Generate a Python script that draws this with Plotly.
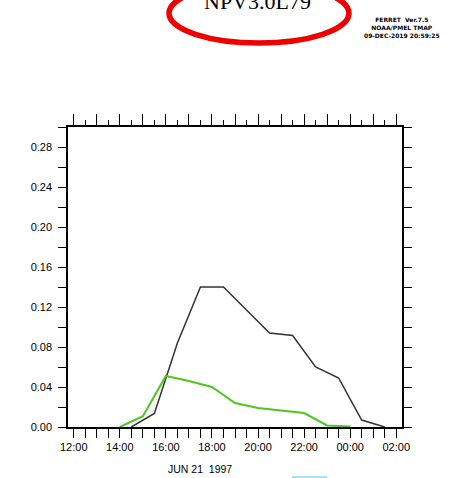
import plotly.graph_objects as go

# ---- data ----
black_times = ["1997-06-21 14:30", "1997-06-21 15:30", "1997-06-21 16:30", "1997-06-21 17:30",
               "1997-06-21 18:30", "1997-06-21 19:30", "1997-06-21 20:30", "1997-06-21 21:30",
               "1997-06-21 22:30", "1997-06-21 23:30", "1997-06-22 00:30", "1997-06-22 01:30"]
black_values = [0.0, 0.0135, 0.084, 0.140, 0.140, 0.117, 0.094, 0.0915, 0.060, 0.049, 0.007, 0.0]

green_times = ["1997-06-21 14:00", "1997-06-21 15:00", "1997-06-21 16:00", "1997-06-21 17:00",
               "1997-06-21 18:00", "1997-06-21 19:00", "1997-06-21 20:00", "1997-06-21 21:00",
               "1997-06-21 22:00", "1997-06-21 23:00", "1997-06-22 00:00"]
green_values = [0.0, 0.0108, 0.051, 0.046, 0.040, 0.024, 0.019, 0.0165, 0.014, 0.0015, 0.0005]

x_range = ["1997-06-21 11:45", "1997-06-22 02:15"]
y_range = [0, 0.30]
date_label = "JUN\u00a021\u00a0\u00a01997"
title_text = "NPV3.0L79"
ferret_text = "FERRET\u00a0\u00a0Ver.7.5<br>NOAA/PMEL\u00a0TMAP<br>09-DEC-2019\u00a020:59:25"

W, H = 463, 478
L, R, T, B = 68, 61, 127, 51
PW, PH = W - L - R, H - T - B

def px(x):
    return (x - L) / PW

def py(y):
    return (H - B - y) / PH

fig = go.Figure()
fig.add_trace(go.Scatter(x=black_times, y=black_values, mode="lines",
                         line=dict(color="#333333", width=1.5), showlegend=False))
fig.add_trace(go.Scatter(x=green_times, y=green_values, mode="lines",
                         line=dict(color="#4cc81e", width=2), showlegend=False))
fig.add_trace(go.Scatter(x=x_range, y=[None, None], xaxis="x2", mode="lines",
                         showlegend=False, hoverinfo="skip"))

tickfont = dict(family="Liberation Sans, Arial, sans-serif", size=11, color="black")

fig.update_layout(
    width=W, height=H,
    margin=dict(l=L, r=R, t=T, b=B),
    paper_bgcolor="white", plot_bgcolor="white",
    xaxis=dict(type="date", range=x_range, showgrid=False, zeroline=False,
               showline=True, linecolor="black", linewidth=1.5,
               ticks="outside", ticklen=9, tickwidth=1.2, tickcolor="black",
               tick0="1997-06-21 12:00", dtick=2 * 3600000, tickformat="%H:%M",
               minor=dict(ticks="outside", ticklen=9, tickwidth=1.2, tickcolor="black",
                          dtick=1800000, showgrid=False),
               tickfont=tickfont),
    xaxis2=dict(type="date", range=x_range, overlaying="x", side="top", anchor="y",
                showgrid=False, zeroline=False, showline=True, linecolor="black", linewidth=1.5,
                ticks="outside", ticklen=11, tickwidth=1.2, tickcolor="black",
                tick0="1997-06-21 12:00", dtick=3600000, showticklabels=False,
                minor=dict(ticks="outside", ticklen=5, tickwidth=1.2, tickcolor="black",
                           dtick=1800000, showgrid=False)),
    yaxis=dict(range=y_range, showgrid=False, zeroline=False,
               showline=True, linecolor="black", linewidth=1.5, mirror="ticks",
               ticks="outside", ticklen=8, tickwidth=1.2, tickcolor="black",
               tick0=0, dtick=0.04, tickformat=".2f",
               minor=dict(ticks="outside", ticklen=8, tickwidth=1.2, tickcolor="black",
                          dtick=0.02, showgrid=False),
               tickfont=tickfont, ticklabelstandoff=4),
    shapes=[
        dict(type="circle", xref="paper", yref="paper",
             x0=px(169), x1=px(349), y0=py(43), y1=py(-16.5),
             line=dict(color="#ee0000", width=5.5), layer="above"),
        dict(type="line", xref="paper", yref="paper",
             x0=px(292), x1=px(327), y0=py(477.5), y1=py(477.5),
             line=dict(color="#8fe3f2", width=2.5)),
    ],
    annotations=[
        dict(text=title_text, xref="paper", yref="paper", x=px(257), y=py(1),
             xanchor="center", yanchor="middle", showarrow=False,
             font=dict(family="Liberation Serif, Times New Roman, serif", size=22, color="black")),
        dict(text=ferret_text, xref="paper", yref="paper", x=px(402), y=py(27.5),
             xanchor="center", yanchor="middle", showarrow=False,
             font=dict(family="DejaVu Sans, sans-serif", size=6, color="black", weight="bold")),
        dict(text=date_label, xref="paper", yref="paper", x=px(200), y=py(469),
             xanchor="center", yanchor="middle", showarrow=False,
             font=dict(family="Liberation Sans, Arial, sans-serif", size=10.5, color="black")),
    ],
)

fig.write_html("out.html", config={"displayModeBar": False},
               post_script="document.body.style.margin='0';document.body.style.padding='0';")
